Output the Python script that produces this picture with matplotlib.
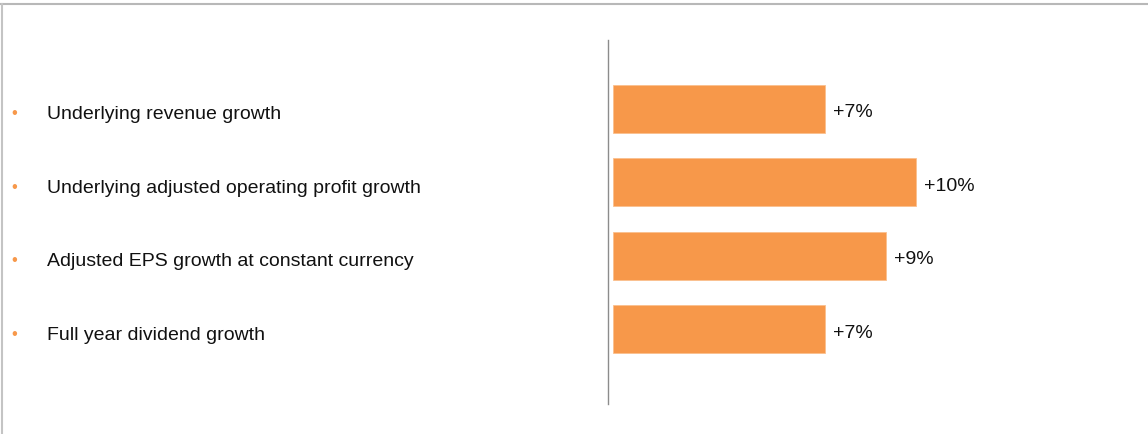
import matplotlib
matplotlib.use("Agg")
import matplotlib.pyplot as plt
import matplotlib.transforms as mtransforms
from matplotlib.lines import Line2D

categories = [
    "Underlying revenue growth",
    "Underlying adjusted operating profit growth",
    "Adjusted EPS growth at constant currency",
    "Full year dividend growth",
]
values = [7, 10, 9, 7]
value_labels = ["+7%", "+10%", "+9%", "+7%"]

W, H = 1148, 434
fig = plt.figure(figsize=(W / 100, H / 100), dpi=100)
fig.patch.set_facecolor("white")
plt.rcParams["font.family"] = ["Liberation Sans", "DejaVu Sans"]

ax_left, ax_right, ax_top, ax_bottom = 608, 1148, 40, 404
ax = fig.add_axes([ax_left / W, 1 - ax_bottom / H, (ax_right - ax_left) / W, (ax_bottom - ax_top) / H])
ax.set_facecolor("none")

orange = "#F7984A"
ypos = list(range(len(categories)))
ax.barh(ypos, values, height=0.655, color=orange, edgecolor="#FBC08E", linewidth=0.6)

px_per_unit = 30.3
ax.set_xlim(-5 / px_per_unit, (ax_right - ax_left - 5) / px_per_unit)
spacing = 73.5
ax.set_ylim(3 + (404 - 329) / spacing, -(109 - 40) / spacing)

for s in ["top", "right", "bottom"]:
    ax.spines[s].set_visible(False)
ax.spines["left"].set_color("#8c8c8c")
ax.spines["left"].set_linewidth(1.0)
ax.spines["left"].set_position(("data", -5 / px_per_unit))
ax.set_xticks([])
ax.set_yticks([])

pt = 72 / 100  # points per pixel
for y, v, lab in zip(ypos, values, value_labels):
    ax.annotate(lab, xy=(v, y), xytext=(8 * pt, -8.5 * pt), textcoords="offset points",
                va="baseline", ha="left", fontsize=14, color="#111111")

trans = mtransforms.blended_transform_factory(fig.transFigure, ax.transData)
for y, cat in zip(ypos, categories):
    ax.annotate("•", xy=(14 / W, y), xycoords=trans, xytext=(0, -5 * pt),
                textcoords="offset points", va="center", ha="center",
                fontsize=12, color=orange, annotation_clip=False)
    ax.annotate(cat, xy=(47 / W, y), xycoords=trans, xytext=(0, -10.5 * pt),
                textcoords="offset points", va="baseline", ha="left",
                fontsize=14, color="#111111", annotation_clip=False)

# slide frame lines
fig.add_artist(Line2D([0, 1], [1 - 3.5 / H, 1 - 3.5 / H], transform=fig.transFigure,
                      color="#b8b8b8", linewidth=1.5))
fig.add_artist(Line2D([1.5 / W, 1.5 / W], [0, 1 - 3.5 / H], transform=fig.transFigure,
                      color="#c4c4c4", linewidth=1.5))

fig.savefig("out.png", dpi=100, facecolor="white")
